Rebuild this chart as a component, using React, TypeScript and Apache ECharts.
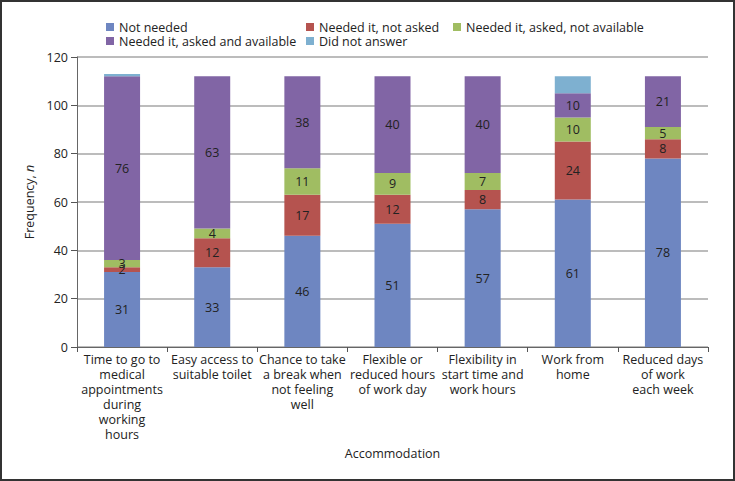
import React, { useEffect, useRef } from "react";
import * as echarts from "echarts";

const categories = [
  "Time to go to\nmedical\nappointments\nduring\nworking\nhours",
  "Easy access to\nsuitable toilet",
  "Chance to take\na break when\nnot feeling\nwell",
  "Flexible or\nreduced hours\nof work day",
  "Flexibility in\nstart time and\nwork hours",
  "Work from\nhome",
  "Reduced days\nof work\neach week",
];
const seriesNames = [
  "Not needed",
  "Needed it, not asked",
  "Needed it, asked, not available",
  "Needed it, asked and available",
  "Did not answer",
];
const notNeeded = [31, 33, 46, 51, 57, 61, 78];
const neededNotAsked = [2, 12, 17, 12, 8, 24, 8];
const neededAskedNotAvailable = [3, 4, 11, 9, 7, 10, 5];
const neededAskedAvailable = [76, 63, 38, 40, 40, 10, 21];
const didNotAnswer = [1, 0, 0, 0, 0, 7, 0];
const yMin = 0;
const yMax = 120;
const yStep = 20;

const seriesValues = [notNeeded, neededNotAsked, neededAskedNotAvailable, neededAskedAvailable, didNotAnswer];
const colors = ["#6e86c1", "#b5534f", "#a0bd62", "#8165a5", "#7eb0d0"];
const showLabel = [true, true, true, true, false];
const legendPos = [
  [106, 20.5],
  [306, 20.5],
  [453, 20.5],
  [106, 34.5],
  [306, 34.5],
];

const FONT = "'Open Sans', sans-serif";

export default function App() {
  const ref = useRef<HTMLDivElement>(null);
  useEffect(() => {
    if (!ref.current) return;
    const chart = echarts.init(ref.current, undefined, { renderer: "svg" });
    chart.setOption({
      animation: false,
      textStyle: { fontFamily: FONT },
      graphic: [
        {
          type: "rect",
          shape: { x: 1, y: 1, width: 733, height: 479 },
          style: { fill: "none", stroke: "#333", lineWidth: 2 },
          z: 100,
        },
      ],
      legend: seriesNames.map((n, i) => ({
        data: [n],
        left: legendPos[i][0],
        top: legendPos[i][1],
        padding: 0,
        itemWidth: 8,
        itemHeight: 8,
        itemGap: 0,
        icon: "rect",
        selectedMode: false,
        textStyle: { fontFamily: FONT, fontSize: 12.5, lineHeight: 13, color: "#222" },
      })),
      grid: { left: 77, right: 27, top: 57, bottom: 134, containLabel: false },
      xAxis: {
        type: "category",
        data: categories,
        name: "Accommodation",
        nameLocation: "middle",
        nameGap: 94,
        nameTextStyle: { fontFamily: FONT, fontSize: 12.5, color: "#222" },
        axisLine: { show: true, lineStyle: { color: "#666", width: 1 } },
        axisTick: { show: true, alignWithLabel: false, length: 5, lineStyle: { color: "#555" } },
        axisLabel: {
          interval: 0,
          margin: 5,
          fontFamily: FONT,
          fontSize: 12.5,
          lineHeight: 15,
          color: "#222",
          align: "center",
        },
      },
      yAxis: {
        type: "value",
        min: yMin,
        max: yMax,
        interval: yStep,
        name: "Frequency, {i|n}",
        nameLocation: "middle",
        nameGap: 35,
        nameTextStyle: {
          fontFamily: FONT,
          fontSize: 12.5,
          color: "#222",
          rich: { i: { fontStyle: "italic", fontFamily: FONT, fontSize: 12.5, color: "#222" } },
        },
        axisLine: { show: true, lineStyle: { color: "#666", width: 1 } },
        axisTick: { show: true, inside: false, length: 6, lineStyle: { color: "#555" } },
        axisLabel: { margin: 9, fontFamily: FONT, fontSize: 12.5, color: "#222" },
        splitLine: { show: true, lineStyle: { color: "#a6a6a6", width: 1.5 } },
      },
      series: seriesNames.map((n, i) => ({
        name: n,
        type: "bar",
        stack: "total",
        barWidth: 36,
        data: seriesValues[i],
        itemStyle: { color: colors[i] },
        label: {
          show: showLabel[i],
          position: "inside",
          fontFamily: FONT,
          fontSize: 12.5,
          color: "#222",
          formatter: (p: any) => (p.value ? String(p.value) : ""),
        },
      })),
    });
    return () => chart.dispose();
  }, []);
  return (
    <div
      ref={ref}
      style={{ position: "fixed", left: 0, top: 0, width: 735, height: 481, background: "#fff" }}
    />
  );
}
